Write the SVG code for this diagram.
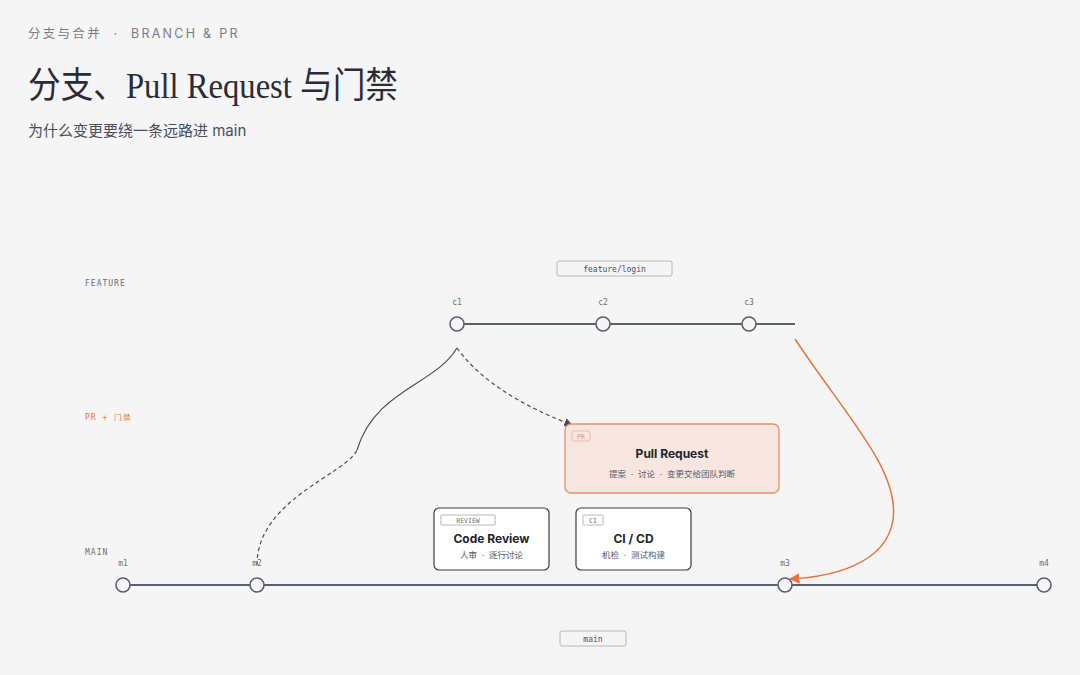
<svg xmlns="http://www.w3.org/2000/svg" width="1080" height="675" viewBox="0 0 1080 675">
<defs>
<style>
text{white-space:pre;}
.mono{font-family:"DejaVu Sans Mono","Liberation Mono",monospace;}
.sans{font-family:Inter,"Noto Sans","Noto Sans CJK SC",sans-serif;}
.lbl{font-size:8px;fill:#6b6f7a;letter-spacing:1px;}
.cl{font-size:8px;fill:#6b6f7a;}
.commit{fill:#f5f5f5;stroke:#5a5f6e;stroke-width:1.6;}
.rail{stroke:#5a6070;stroke-width:1.8;}
.tag{fill:#f5f5f5;stroke:#b8b8b8;stroke-width:1;}
.card{fill:#fff;stroke:#3a3d48;stroke-width:1.2;}
.ttl{font-size:12px;font-weight:700;fill:#22232b;text-anchor:middle;}
.sub{font-size:8.5px;fill:#555a66;text-anchor:middle;}
</style>
<marker id="ad" viewBox="0 0 10 10" refX="9" refY="5" markerWidth="7" markerHeight="7" orient="auto"><path d="M0,0 L10,5 L0,10 z" fill="#4a4e5a"/></marker>
<marker id="ao" viewBox="0 0 10 10" refX="9" refY="5" markerWidth="7" markerHeight="7" orient="auto"><path d="M0,0 L10,5 L0,10 z" fill="#e8733f"/></marker>
</defs>
<rect width="1080" height="675" fill="#f5f5f5"/>
<text x="28" y="38" class="sans" font-size="12.5" fill="#7a7d88" letter-spacing="2.5" textLength="212" lengthAdjust="spacing">分支与合并  ·  BRANCH &amp; PR</text>
<text x="28" y="98" font-family="'Liberation Serif','Noto Sans CJK SC',serif" font-size="36" fill="#2a2c35" textLength="370" lengthAdjust="spacingAndGlyphs">分支、Pull Request 与门禁</text>
<text x="28" y="136" class="sans" font-size="15" fill="#4a4e5c">为什么变更要绕一条远路进 main</text>

<text x="85" y="286" class="mono lbl">FEATURE</text>
<text x="85" y="420" class="mono lbl" style="fill:#e8733f">PR + 门禁</text>
<text x="85" y="555" class="mono lbl">MAIN</text>

<g id="connectors" fill="none">
<line class="rail" x1="457" y1="324" x2="795" y2="324"/>
<line class="rail" x1="123" y1="585" x2="1044" y2="585"/>
<path d="M257,565 C257,500 345,475 357,450" stroke="#4a4e5a" stroke-width="1.2" stroke-dasharray="4,3"/>
<path d="M357,450 C375,390 435,385 457,348" stroke="#4a4e5a" stroke-width="1.2"/>
<path d="M457,348 C480,380 520,405 572,425" stroke="#4a4e5a" stroke-width="1.2" stroke-dasharray="4,3" marker-end="url(#ad)"/>
<path d="M795,339 C845,415 900,470 893,520 C886,565 830,577 790,579" stroke="#e8733f" stroke-width="1.5" marker-end="url(#ao)"/>
</g>

<g id="feature-tag"><rect class="tag" x="557" y="261" width="115" height="15" rx="2"/><text x="614.5" y="272" class="mono cl" text-anchor="middle" style="fill:#4a4e5a">feature/login</text></g>
<g id="main-tag"><rect class="tag" x="560" y="631" width="66" height="15" rx="2"/><text x="593" y="642" class="mono cl" text-anchor="middle" style="fill:#4a4e5a">main</text></g>

<g id="c1"><circle class="commit" cx="457" cy="324" r="7"/><text x="457" y="305" class="mono cl" text-anchor="middle">c1</text></g>
<g id="c2"><circle class="commit" cx="603" cy="324" r="7"/><text x="603" y="305" class="mono cl" text-anchor="middle">c2</text></g>
<g id="c3"><circle class="commit" cx="749" cy="324" r="7"/><text x="749" y="305" class="mono cl" text-anchor="middle">c3</text></g>
<g id="m1"><circle class="commit" cx="123" cy="585" r="7"/><text x="123" y="566" class="mono cl" text-anchor="middle">m1</text></g>
<g id="m2"><circle class="commit" cx="257" cy="585" r="7"/><text x="257" y="566" class="mono cl" text-anchor="middle">m2</text></g>
<g id="m3"><circle class="commit" cx="785" cy="585" r="7"/><text x="785" y="566" class="mono cl" text-anchor="middle">m3</text></g>
<g id="m4"><circle class="commit" cx="1044" cy="585" r="7"/><text x="1044" y="566" class="mono cl" text-anchor="middle">m4</text></g>

<g id="pr">
<rect x="565" y="424" width="214" height="69" rx="6" fill="#f6e6df" stroke="#e8906a" stroke-width="1.3"/>
<rect x="572" y="431" width="18" height="10" rx="2" fill="none" stroke="#eab39b" stroke-width="0.8"/>
<text x="581" y="439" class="mono" font-size="6.5" fill="#e8906a" text-anchor="middle">PR</text>
<text x="672" y="458" class="sans ttl">Pull Request</text>
<text x="672" y="477" class="sans sub">提案  ·  讨论  ·  变更交给团队判断</text>
</g>
<g id="review">
<rect class="card" x="434" y="508" width="115" height="62" rx="5"/>
<rect x="441" y="515" width="54" height="10" rx="1" fill="none" stroke="#aaa" stroke-width="0.8"/>
<text x="468" y="523" class="mono" font-size="6.5" fill="#6b6f7a" text-anchor="middle">REVIEW</text>
<text x="491.5" y="543" class="sans ttl">Code Review</text>
<text x="491.5" y="558" class="sans sub">人审  ·  逐行讨论</text>
</g>
<g id="ci">
<rect class="card" x="576" y="508" width="115" height="62" rx="5"/>
<rect x="583" y="515" width="20" height="10" rx="1" fill="none" stroke="#aaa" stroke-width="0.8"/>
<text x="593" y="523" class="mono" font-size="6.5" fill="#6b6f7a" text-anchor="middle">CI</text>
<text x="633.5" y="543" class="sans ttl">CI / CD</text>
<text x="633.5" y="558" class="sans sub">机检  ·  测试构建</text>
</g>
</svg>
